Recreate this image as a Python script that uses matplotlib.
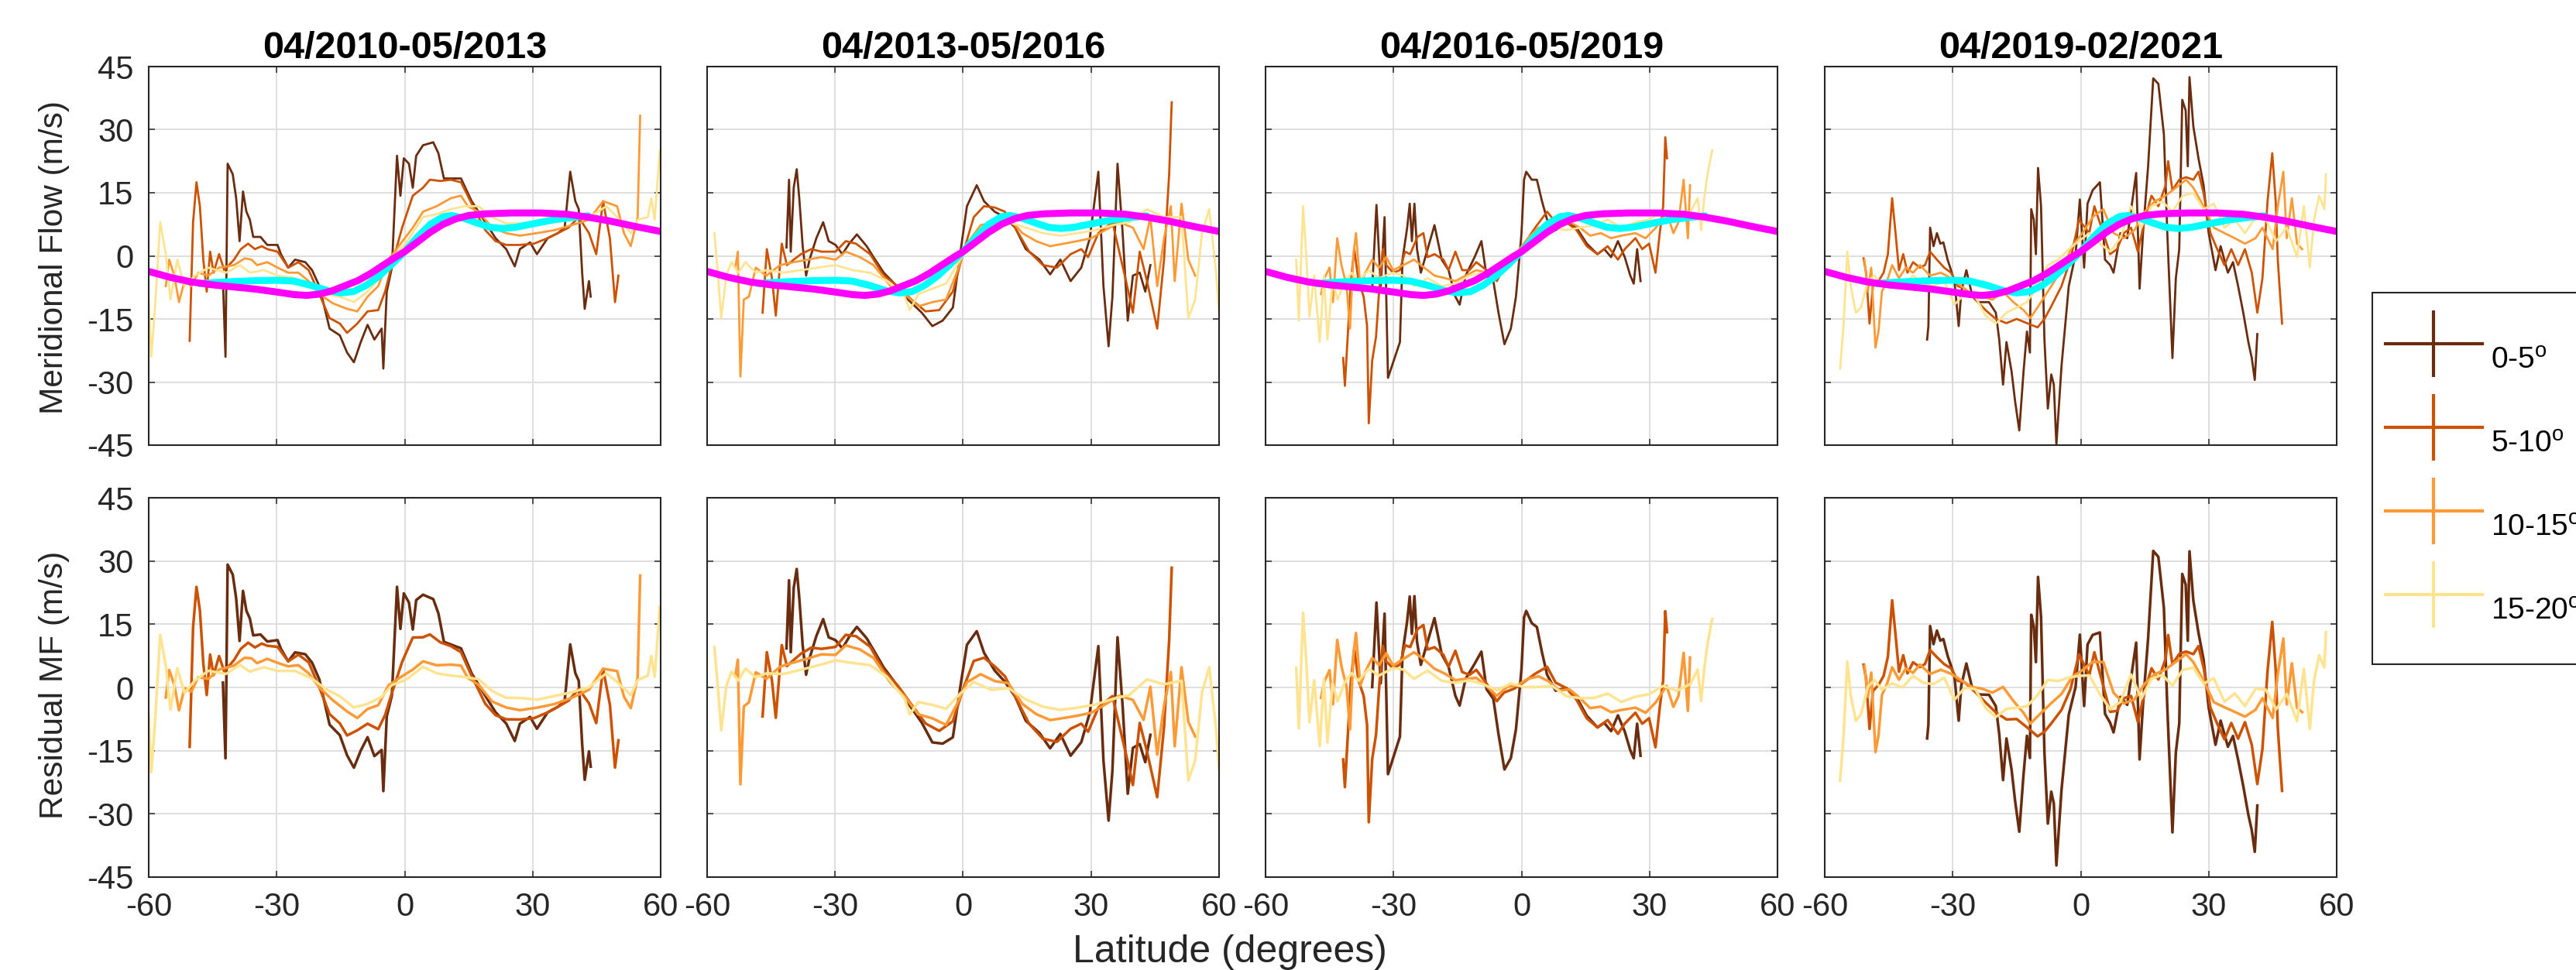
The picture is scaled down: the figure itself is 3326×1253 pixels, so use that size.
import numpy as np
import matplotlib.pyplot as plt
from matplotlib.lines import Line2D

plt.rcParams['font.family'] = ['Liberation Sans', 'DejaVu Sans']
plt.rcParams['axes.unicode_minus'] = False
plt.rcParams['mathtext.default'] = 'regular'

periods = ["04/2010-05/2013", "04/2013-05/2016", "04/2016-05/2019", "04/2019-02/2021"]
bands = ["0-5$^o$", "5-10$^o$", "10-15$^o$", "15-20$^o$"]
band_colors = ["#6a2c0e", "#cc5200", "#fd9a35", "#fee391"]

# reference profiles (same in every period)
model_lat = [-60, -55, -50, -45, -40, -35, -30, -26, -23, -20, -17, -14, -11, -8, -5, -2, 0, 3, 6, 9,
             12, 15, 19, 25, 32, 38, 43, 48, 54, 60]
model_mf = [-3.7, -5.1, -6.2, -6.9, -7.4, -7.9, -8.6, -9.2, -9.4, -9.1, -8.3, -7.1, -5.9, -4.2, -2.2, -0.2, 1.0,
            3.3, 5.6, 7.5, 8.8, 9.6, 10.0, 10.2, 10.2, 9.9, 9.2, 8.3, 7.0, 5.8]
fit_lat = [-48, -44, -40, -35, -30, -26, -22, -18, -15, -12, -9, -6, -3, 0, 3, 6, 9, 11, 14, 17, 20, 23, 26,
           30, 35, 40, 43]
fit_mf = [-6.6, -6.3, -6.1, -5.9, -5.8, -6.0, -7.0, -8.3, -8.8, -8.5, -7.0, -4.8, -2.0, 1.0, 4.5, 7.5, 9.3, 9.6,
          8.9, 7.8, 6.8, 6.5, 6.8, 7.6, 8.6, 9.2, 9.5]

# ---- 04/2010-05/2013 ----
p1_lat_05 = [-42.6, -42.0, -41.5, -40.3, -39.5, -38.7, -37.9, -37.1, -36.3, -35.5, -33.8, -32.2, -29.8, -29.0, -27.3,
             -25.7, -23.3, -21.7, -20.0, -17.6, -15.2, -13.5, -11.9, -10.3, -8.7, -7.1, -5.4, -5.0, -4.2, -3.0, -1.8,
             -1.0, -0.2, 1.0, 1.9, 2.7, 4.3, 6.7, 7.9, 9.2, 13.2, 15.7, 18.9, 21.3, 23.8, 25.8, 27.0, 29.4, 31.0,
             33.5, 35.9, 37.5, 38.8, 40.0, 40.8, 41.6, 42.2, 43.2, 43.6]
p1_mf_05 = [-6, -24, 21.9, 19.4, 13.7, 3.5, 15.3, 10.5, 8.6, 4.5, 4.5, 2.6, 2.6, 0.4, -2.8, -0.9, -1.5, -3.4, -7.2,
            -17.3, -18.9, -23, -25.3, -20.5, -16.4, -19.9, -17.3, -26.8, -8.5, -2.8, 23.8, 14.3, 23.2, 21.9, 16.2,
            23.8, 26.3, 27, 24.4, 18.4, 18.4, 13, 8, 4.2, 1.6, -2.5, 1.6, 3.2, 0.4, 4.2, 5.4, 6.7, 20, 13, 11.1, -4,
            -12.6, -6, -9.7]
p1_lat_510 = [-50.4, -49.6, -48.8, -48.0, -47.2, -46.4, -45.6, -44.8, -43.5, -42.3, -40.0, -38.4, -36.7, -35.1, -33.5,
              -32.2, -29.8, -27.3, -24.9, -22.5, -20.0, -17.6, -15.2, -13.5, -11.1, -8.7, -6.2, -4.6, -3.0, -0.6, 1.9,
              4.3, 5.9, 8.4, 10.8, 13.2, 15.7, 18.9, 21.3, 23.8, 27.0, 30.3, 33.5, 35.9, 38.4, 40.8, 43.2, 44.9, 46.5,
              48.1, 49.3, 50.1]
p1_mf_510 = [-20.2, 8, 17.5, 11.8, -0.9, -8.5, 1, -4, 0.4, -3.4, -0.9, 1.6, 2.9, 1.6, 2.3, 1.6, 1, -2.8, -1.5, -3.4,
             -9.1, -14.8, -16.1, -18.3, -16.1, -13.2, -12.9, -8.5, -2.2, 6.7, 14.3, 16.2, 18.1, 17.8, 18.1, 17.5, 12.4,
             6.1, 3.5, 2.6, 2.6, 2.9, 4.2, 5.4, 6.7, 9.2, 5.4, 0.4, 13, 4.2, -11, -4.7]
p1_lat_1015 = [-56, -55.2, -54, -52.9, -51.6, -50, -48.4, -46, -43.5, -40, -37.5, -35.9, -34.6, -32.2, -29.8, -27.3,
               -24.9, -22.5, -20, -16.8, -13.5, -11.1, -8.7, -6.2, -3.8, -1.4, 1.9, 4.3, 7.5, 10.8, 13.2, 14.8, 17.3,
               20.5, 23.8, 27, 31, 35.1, 39.2, 43.2, 46.5, 49.8, 51.4, 53, 54.6, 55.2]
p1_mf_1015 = [-7.2, -0.9, -4.7, -11, -6, -7.2, -4, -4.7, -2.8, -2.2, -0.6, -0.9, -2.2, -1.5, -2.8, -4, -4, -6, -9.1,
              -11.3, -12.6, -13.2, -9.7, -7.2, -0.9, 2.3, 6.7, 10.5, 11.8, 13.7, 14.3, 11.8, 10.5, 6.7, 5.4, 4.8, 5.4,
              6.1, 7.3, 8.6, 13, 11.8, 5.4, 2.3, 9.2, 33.3]
p1_lat_1520 = [-60, -59.4, -58.6, -57.3, -56, -54.9, -53.3, -51.6, -49.2, -46, -41.9, -38.6, -36.3, -33, -29.8, -25.7,
               -21.7, -18.4, -15.2, -11.9, -8.7, -5.4, -3, 0.2, 4.3, 7.5, 10.8, 14, 17.3, 20.5, 23.8, 27, 31, 35.1,
               39.2, 43.2, 47.3, 49.8, 53, 54.6, 57, 57.8, 58.6, 59.8]
p1_mf_1520 = [-10.4, -24, -13.5, 8, 0.4, -10.4, -0.9, -7.2, -4.7, -2.8, -4, -2.2, -4, -3.4, -4.7, -5.3, -7.2, -9.1,
              -9.7, -11, -8.5, -4.7, -0.3, 2.9, 9.2, 9.9, 11.1, 11.8, 11.8, 9.2, 7.7, 7.7, 7.3, 8, 8.6, 9.2, 11.8, 9.2,
              5.4, 8.6, 9.2, 13.7, 8.6, 25]

# ---- 04/2013-05/2016 ----
p2_lat_05 = [-41.4, -40.8, -40.4, -39.7, -39.0, -38.4, -37.6, -36.8, -36.0, -34.4, -32.8, -31.5, -29.9, -28.3, -26.7,
             -24.9, -22.6, -21.0, -18.6, -16.1, -12.9, -9.7, -7.2, -4.8, -2.4, -0.7, 0.9, 3.2, 4.9, 7.4, 9.8, 12.2,
             14.7, 17.9, 20.4, 22.8, 25.2, 27.7, 29.7, 31.7, 32.9, 34.1, 35.0, 36.2, 37.4, 38.6, 39.8, 41.4, 42.7, 43.9]
p2_mf_05 = [2, 18.1, 1, 16.2, 20.6, 13.7, 2.3, -4.7, -0.9, 4.2, 8, 3.5, 2.6, 0.4, 2.9, 5.1, 2.3, -0.3, -4, -6.6,
            -10.4, -13.5, -16.7, -15.4, -12.3, 0.4, 11.8, 16.8, 13, 10.5, 9.2, 6.7, 1.6, -0.9, -4.4, -0.9, -6, -2.8,
            4.2, 20, -7.2, -21.5, -9.7, 21.9, 5.4, -15.4, -4.7, -4, -8.5, -2.2]
p2_lat_510 = [-47, -46, -44.8, -43.9, -42.5, -41.3, -39.7, -38, -35.6, -33.2, -29.9, -27.5, -25.1, -21.8, -18.6, -15.3,
              -12.1, -8.8, -5.6, -2.4, 0.1, 2.5, 4.9, 7.4, 9.8, 12.2, 15.5, 18.7, 22, 25.2, 27.7, 29.3, 31.7, 35, 38.2,
              39.8, 41.4, 43.1, 45.5, 47.1, 48.3, 48.9]
p2_mf_510 = [-13.5, 1.6, -5.3, -14.2, 2.9, -2.2, -0.9, 0.4, 1.6, 1, 1, 3.5, 2.9, 0.4, -4.7, -7.2, -10.4, -13.2, -12.9,
             -8.5, 1, 9.2, 11.8, 11.5, 10.5, 6.7, 1, -2.2, -2.8, 0.4, 1.6, -0.3, 5.4, 8, -6, -13.5, 1, -6, -17.3, -0.9,
             19.4, 36.5]
p2_lat_1015 = [-53.4, -52.8, -52.2, -51.4, -50.2, -48.6, -46.1, -42.9, -39.7, -36.4, -33.2, -29.9, -27.5, -24.2, -21,
               -17, -13.7, -10.5, -7.2, -4, -1.5, 0.9, 4.1, 7.4, 10.6, 13.9, 17.1, 20.4, 23.6, 26.8, 30.1, 33.3, 36.6,
               39.8, 42.3, 43.9, 45.5, 47.1, 48.7, 49.6, 51.2, 52.8, 54.4]
p2_mf_1015 = [-2.8, 1, -28.7, -10.4, -9.7, -2.8, -4.7, -2.2, -1.5, -0.9, -0.3, -0.9, 1, -0.3, -2.2, -7.2, -9.1, -12,
              -11, -10.4, -4, 2.9, 7.3, 8, 9.2, 5.4, 3.5, 2.3, 2.9, 3.5, 4.2, 6.1, 8, 6.7, 1.6, 9.2, -7.2, 4.2, 11.8,
              -6, 12.4, -0.9, -4.7]
p2_lat_1520 = [-58.3, -57.5, -56.7, -55.5, -54.3, -52.7, -51, -48.6, -46.1, -42.1, -38, -34, -29.9, -25.9, -21.8,
               -17.8, -13.7, -12.5, -10.5, -7.2, -4, -0.7, 2.5, 6.6, 10.6, 14.7, 18.7, 22.8, 26.8, 30.9, 35, 39, 43.1,
               47.1, 51.2, 52.8, 54.4, 56, 57.7, 59.3, 60]
p2_mf_1520 = [5.4, -4, -14.8, -4.7, -1.5, -4, -1.5, -4, -3.4, -4, -3.4, -2.8, -2.2, -3.4, -4, -6, -9.7, -12.9, -9.1,
              -7.8, -6.6, -0.9, 4.2, 5.4, 8, 6.7, 5.4, 4.8, 5.4, 6.1, 7.3, 8, 11.1, 9.2, 9.2, -14.8, -10.4, 5.4, 11.1,
              -4, -13.5]

# ---- 04/2016-05/2019 ----
p3_lat_05 = [-35, -34, -33, -32.1, -31.3, -28.5, -27.9, -26.8, -26.2, -25.7, -25.1, -24.5, -23.6, -22, -20.4, -18.7,
             -17.1, -15.5, -14.5, -13.1, -11, -9.4, -8.2, -6.6, -5.4, -4, -2.5, -1.3, 0, 0.6, 1.1, 2.4, 3.6, 4.8, 6,
             8, 10.5, 12.9, 15.3, 17.8, 19.4, 21, 22.6, 24.2, 25.5, 26.3, 27.1, 27.9]
p3_mf_05 = [-7.8, 12.1, -7.2, 9.2, -29, -20.5, -0.9, 6.7, 12.4, 3.5, 12.4, 1.6, -4, 1.6, 7.3, -0.9, -3.4, -9.7, -11.6,
            -4.7, -0.3, 3.5, -4.7, -6, -13.5, -21, -17.3, -9.7, 5.4, 18.1, 20, 18.1, 18.1, 13, 8.6, 6.1, 8, 6.7, 2.9,
            0.4, 1.6, -0.3, 3.5, -0.3, -4.7, -6.6, 1.6, -6]
p3_lat_510 = [-41.8, -41.4, -40.6, -40, -39.2, -38.2, -37, -36.2, -35.8, -35, -34.1, -33.3, -32.5, -31.7, -30.1, -28.5,
              -27.3, -26.1, -24.4, -23, -22, -20.4, -18.3, -17.1, -15.5, -13.9, -12.2, -10.6, -8.2, -5.8, -4.1, -1.7,
              0.7, 3.2, 6, 8, 10.5, 12.9, 15.3, 17.8, 20.2, 22.6, 24.2, 26.7, 28.3, 29.9, 31.4, 32.4, 33.2, 33.7, 34.1]
p3_mf_510 = [-24.3, -30.9, -16.7, -6, 1.6, -6, -9.7, -16.7, -39.8, -24.9, -19.2, -7.2, 1.6, -2.2, -4, -3.4, 1, 0.4,
             4.5, 5.4, -0.3, 0.4, -0.9, -3.4, 1, -3.4, -3.4, -1.5, -3.4, -6, -2.8, -0.3, 2.9, 6.7, 10.5, 8, 8, 6.1,
             2.3, 0.4, 2.3, -0.9, 1.6, 4.2, 1.6, 2.9, -4, 5.4, 11.8, 28.2, 23.2]
p3_lat_1015 = [-47, -46.2, -45, -44.2, -43.2, -42.2, -41, -40.2, -39.4, -38.8, -37.8, -36.6, -35, -33.4, -31.7, -30.1,
               -27.7, -25.2, -22.8, -20.4, -17.9, -15.5, -13.1, -10.6, -8.2, -5.8, -3.3, -0.9, 1.5, 4, 6.4, 8.8, 11.3,
               13.7, 16.1, 18.6, 21, 23.4, 26.7, 29.1, 31.5, 34, 35.6, 36.8, 38, 39, 39.5]
p3_mf_1015 = [-9.1, -5.3, -2.8, -11, 4.2, -2.2, -7.2, -17.3, 0.4, 5.4, -7.2, -4, -0.9, -2.8, -0.3, -3.4, -2.2, -0.9,
              -2.8, -4.7, -5.3, -6, -4.7, -3.4, -4, -4.7, -0.9, 1, 4.2, 6.7, 7.3, 6.7, 8, 6.7, 4.8, 5.4, 4.2, 4.8, 5.4,
              4.2, 6.7, 10.5, 5.4, 8, 18.1, 4.2, 16.8]
p3_lat_1520 = [-52.8, -52.2, -51.2, -50.4, -49.7, -48.6, -47.3, -46.3, -45.5, -44.3, -43.1, -41.4, -39.8, -38.2,
               -35.8, -33.4, -30.1, -27.7, -25.2, -22, -18.7, -15.5, -12.2, -9, -5.8, -2.5, 0.7, 4, 7.2, 10.5, 13.7,
               17, 20.2, 23.4, 26.7, 29.9, 33.2, 36.4, 39.6, 41.3, 42.1, 42.9, 43.7, 44.7]
p3_mf_1520 = [-0.9, -15.4, 11.8, -0.9, -14.5, -4.7, -20.5, -4.7, -19.9, -6, -10.4, -6, -4, -6, -3.4, -5.3, -4, -4.7,
              -7.2, -5.3, -7.2, -6.6, -4.7, -4, -3.4, 0.4, 1.6, 4.2, 6.7, 6.1, 6.7, 7.3, 8.6, 6.7, 8, 8.6, 10.5, 9.2,
              10.5, 13.7, 6.1, 14.3, 20, 25.1]

# ---- 04/2019-02/2021 ----
p4_lat_05 = [-36, -35.7, -35.3, -34.5, -33.7, -32.9, -32.2, -31.2, -30.4, -29.6, -28.6, -28, -26.8, -25.5, -23.9,
             -21.5, -19.9, -19.1, -18.2, -17.4, -16.2, -15.4, -14.4, -13.4, -12.6, -11.9, -11.6, -11, -10.5, -10,
             -9.3, -8.5, -7.7, -6.9, -6.3, -5.7, -4.5, -2.8, -1.2, -0.2, 0.8, 1.6, 2.8, 4.5, 5.7, 6.9, 7.7, 9.3, 10.9,
             13, 13.8, 14.6, 15.8, 17, 18.2, 19.5, 20.3, 21.5, 22.3, 23.1, 23.8, 24.6, 25.1, 25.5, 26.4, 27.6, 28.8,
             30, 31.6, 32.8, 34.5, 35.7, 36.9, 38.1, 39.3, 40.1, 40.8, 41.4]
p4_mf_05 = [-19.9, -16.7, 6.7, 2.3, 5.4, 2.9, 3.2, -0.9, -3.4, -6, -16.7, -8.5, -3.4, -9.1, -11, -11, -13.5, -19.9,
            -30.6, -20.5, -27.5, -34.4, -41.5, -27.5, -18, -23, 11.1, 8.6, 0.4, 20.9, 11.8, -19.9, -36.3, -28.2, -30.6,
            -44.9, -26.2, -7.2, 0.4, 13.4, -2.8, 12.4, 15.6, 17.5, -0.9, -2.2, -4, 5.4, 4.2, 19.7, -7.8, 5.4, 21.3,
            42.2, 40.9, 28.9, 5.4, -24.3, -5.3, 1.6, 37.1, 34.6, 21.3, 42.5, 30.8, 23.2, 16.8, 5.4, -3.4, 2.3, -4,
            -1.5, -7.2, -13.5, -20.5, -24.3, -29.5, -18.6]
p4_lat_510 = [-50.9, -50.3, -49.5, -48.7, -47.4, -46.2, -45.2, -44.2, -43.4, -42.6, -41.6, -40.6, -39.3, -37.7, -36.5,
              -35.3, -33.7, -32, -30.4, -28.8, -27.2, -24.7, -22.3, -19.9, -17.4, -15, -12.6, -10.1, -8.5, -6.9, -4.5,
              -2.4, -0.4, 2, 3.2, 5.3, 6.9, 8.5, 10.1, 11.8, 13.4, 15, 16.6, 18.2, 19.9, 20.5, 21.5, 23.1, 24.7, 26.4,
              27.6, 28.8, 30.4, 32, 33.7, 35.3, 36.9, 38.5, 40.1, 41.4, 42.6, 43.8, 44.9, 45.7, 46.2, 46.6, 47.2]
p4_mf_510 = [-0.6, -4, -16.1, -7.2, -6, -4, 0.4, 13.7, 5.4, -3.4, 0.4, -4, -1.5, -2.8, -2.2, 1, -0.9, -2.8, -4, -7.2,
             -7.8, -10.4, -12.9, -15, -16, -15, -16, -17, -15, -12, -7.2, -0.9, 8.6, 5.4, 11.8, 5.4, 0.4, 1.6, 5.4,
             6.7, 1, 8.6, 14.3, 11.8, 16.8, 22.5, 15.6, 18.1, 18.7, 18.1, 20, 14.9, 5.4, 1.6, -2.2, 1.6, -2.2, 1.6, -4,
             -13.5, -5.3, 13, 24.4, 13, -0.9, -7.2, -16.1]
p4_lat_1015 = [-50.7, -49.9, -49.1, -48.1, -47.4, -46.6, -45.4, -44.2, -42.6, -41, -39.3, -37.7, -35.3, -32.8, -30.4,
               -28, -25.5, -23.1, -20.7, -18.2, -15.8, -13.4, -11.8, -9.3, -6.9, -4.5, -2, 0.4, 2.8, 5.3, 7.7, 10.1,
               12.6, 15, 17.4, 19.9, 22.3, 24.7, 26.4, 28.8, 31.2, 33.7, 36.1, 38.5, 41, 42.6, 45, 46.2, 47.5, 48.3,
               49.5, 50.7, 51.9]
p4_mf_1015 = [-0.9, -8.5, -2.8, -21.8, -18, -8.5, -6, -2.2, -5.3, -2.8, -4, -2.2, -4.7, -4, -5.3, -7.2, -9.1, -9.7,
              -10.4, -8.5, -11, -12.9, -14.8, -11, -7.2, -3.4, 2.3, 5.4, 9.2, 11.1, 5.4, 4.2, 6.1, 10.5, 13, 14.3,
              16.2, 18.1, 16.2, 11.8, 6.7, 5.4, 4.2, 2.9, 4.2, 6.7, 1.6, 11.8, 20, 4.2, 13.7, 2.9, 1.6]
p4_lat_1520 = [-56.4, -55.6, -54.7, -53.9, -52.7, -51.5, -49.9, -48.3, -46.6, -44.2, -41.8, -39.3, -36.9, -34.5, -32,
               -29.6, -27.2, -24.7, -22.3, -19.9, -17.4, -15, -12.6, -10.1, -7.7, -5.3, -2.8, -0.4, 2, 4.5, 6.9, 9.3,
               11.8, 14.2, 16.6, 19.1, 21.5, 23.9, 26.4, 28.8, 31.2, 33.7, 36.1, 38.5, 41, 43.4, 45.8, 48.3, 50.7,
               52.3, 53.7, 54.7, 55.9, 57.1, 57.5]
p4_mf_1520 = [-26.8, -16.7, 1, -7.2, -13.5, -12.3, -6, -4.7, -7.2, -6, -7.2, -4.7, -6.6, -7.2, -6, -11.6, -9.1, -9.7,
              -14.2, -16.1, -13.5, -12.3, -11, -7.2, -2.2, -0.9, 1.6, 3.5, 5.4, 2.9, 1, 4.2, 11.8, 6.7, 11.8, 13, 10.5,
              14.3, 14.9, 11.1, 12.4, 6.7, 8.6, 5.4, 9.2, 8.6, 3.5, 6.7, -0.3, 11.8, -2.8, 8.6, 14.3, 11.1, 19.4]

panels = [
    [(p1_lat_05, p1_mf_05), (p1_lat_510, p1_mf_510), (p1_lat_1015, p1_mf_1015), (p1_lat_1520, p1_mf_1520)],
    [(p2_lat_05, p2_mf_05), (p2_lat_510, p2_mf_510), (p2_lat_1015, p2_mf_1015), (p2_lat_1520, p2_mf_1520)],
    [(p3_lat_05, p3_mf_05), (p3_lat_510, p3_mf_510), (p3_lat_1015, p3_mf_1015), (p3_lat_1520, p3_mf_1520)],
    [(p4_lat_05, p4_mf_05), (p4_lat_510, p4_mf_510), (p4_lat_1015, p4_mf_1015), (p4_lat_1520, p4_mf_1520)],
]

W, H = 3326, 1253
fig = plt.figure(figsize=(W / 100, H / 100), dpi=100)

lefts = [192, 913, 1634, 2356]
ax_w = 661
text_c = "#262626"


def style(ax, first_col, bottom_row):
    ax.set_xlim(-60, 60)
    ax.set_ylim(-45, 45)
    ax.set_xticks([-60, -30, 0, 30, 60])
    ax.set_yticks([-45, -30, -15, 0, 15, 30, 45])
    ax.grid(True, color="#dcdcdc", linewidth=1.3)
    ax.set_axisbelow(True)
    ax.tick_params(direction="in", top=True, right=True, length=6, width=1.1, colors=text_c,
                   labelsize=30)
    ax.tick_params(axis="y", pad=14)
    ax.tick_params(axis="x", pad=14)
    for s in ax.spines.values():
        s.set_color(text_c)
        s.set_linewidth(1.5)
    if not first_col:
        ax.set_yticklabels([])
    if not bottom_row:
        ax.set_xticklabels([])


for i, period in enumerate(periods):
    x0 = lefts[i] / W
    ax_t = fig.add_axes([x0, 1 - 575 / H, ax_w / W, 489 / H])
    ax_b = fig.add_axes([x0, 1 - 1133 / H, ax_w / W, 490 / H])
    for (lat, mf), c in zip(panels[i], band_colors):
        lat = np.array(lat)
        mf = np.array(mf)
        ax_t.plot(lat, mf, color=c, lw=2.0)
        # residual = measured flow minus the reference profile
        ax_b.plot(lat, mf - np.interp(lat, model_lat, model_mf), color=c, lw=2.5)
    ax_t.plot(fit_lat, fit_mf, color="#00ffff", lw=6.5, solid_capstyle="round")
    ax_t.plot(model_lat, model_mf, color="#ff00ff", lw=6.5)
    ax_t.set_title(period, fontsize=35, fontweight="bold", pad=8)
    style(ax_t, i == 0, False)
    style(ax_b, i == 0, True)

fig.text(70 / W, 1 - 333 / H, "Meridional Flow (m/s)", rotation=90, fontsize=30.5, color=text_c,
         ha="center", va="center")
fig.text(70 / W, 1 - 885 / H, "Residual MF (m/s)", rotation=90, fontsize=30.5, color=text_c,
         ha="center", va="center")
fig.text(1588 / W, 1 - 1243 / H, "Latitude (degrees)", fontsize=36, color=text_c,
         ha="center", va="baseline")

handles = [Line2D([], [], color=c, lw=3, marker="|", markersize=62, markeredgewidth=3) for c in band_colors]
leg = fig.legend(handles, bands, loc="upper left", bbox_to_anchor=(3063 / W, 1 - 378 / H),
                 borderaxespad=0, fontsize=28, handlelength=3.2, handleheight=3.74, labelspacing=0.1,
                 borderpad=0.44, handletextpad=0.3, fancybox=False, framealpha=1, numpoints=1,
                 title=" ", title_fontsize=11)
leg.get_frame().set_edgecolor(text_c)
leg.get_frame().set_linewidth(1.5)

fig.savefig("out.png", dpi=100)
